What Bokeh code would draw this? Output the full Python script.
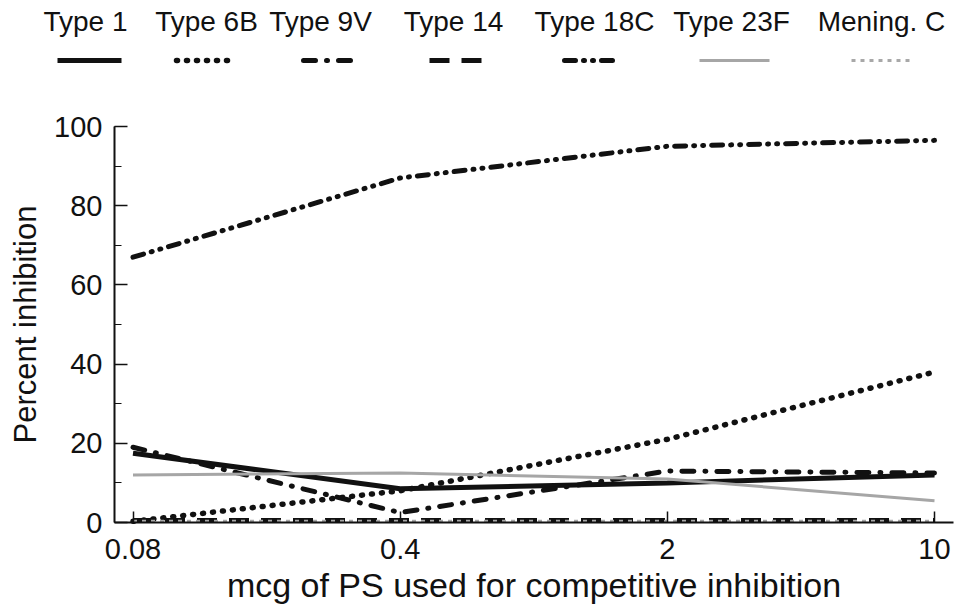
from bokeh.plotting import figure
from bokeh.models import (Range1d, FixedTicker, SingleIntervalTicker, CustomJSTickFormatter,
                          LinearScale)
from bokeh.core.properties import value
from bokeh.embed import file_html
from bokeh.resources import INLINE

# ---- data ----
doses = [0.08, 0.4, 2, 10]
series_names = ["Type 1", "Type 6B", "Type 9V", "Type 14", "Type 18C", "Type 23F", "Mening. C"]
type1 = [17.5, 8.5, 10, 12]
type6b = [0.3, 8, 21, 38]
type9v = [19, 2.5, 13, 12.5]
type14 = [0.5, 0.5, 0.5, 0.5]
type18c = [67, 87, 95, 96.5]
type23f = [12, 12.5, 11, 5.5]
meningc = [0.3, 0.3, 0.3, 0.3]
series_values = [type1, type6b, type9v, type14, type18c, type23f, meningc]

# ---- styles ----
styles = [
    dict(line_color="#111111", line_width=5, line_dash="solid", line_cap="butt"),
    dict(line_color="#111111", line_width=5.5, line_dash="1 9", line_cap="round"),
    dict(line_color="#111111", line_width=5, line_dash="12 11 1 11", line_cap="round"),
    dict(line_color="#111111", line_width=5, line_dash="20 12", line_cap="butt"),
    dict(line_color="#111111", line_width=5, line_dash="11 8 1 8 1 8", line_cap="round"),
    dict(line_color="#a6a6a6", line_width=3, line_dash="solid", line_cap="butt"),
    dict(line_color="#a8a8a8", line_width=3, line_dash="4 5", line_cap="butt"),
]
FONT = "Liberation Sans"

# ---- layout geometry (page pixels) ----
OX, OY = 4, 0              # where the canvas lands on the page
AXIS_X, AXIS_Y = 118, 522  # y-axis line x, x-axis line y
X_FIRST, X_LAST = 136.5, 938.0  # pixel of first / last dose
Y_TOP = 126.0              # pixel of y = 100
RIGHT, BOTTOM = 961, 607
FW = RIGHT - OX
FH = BOTTOM - OY
step = (X_LAST - X_FIRST) / (len(doses) - 1)
ratio = doses[1] / doses[0]
ppu = (AXIS_Y - Y_TOP) / 100.0


def xdata(px):
    return doses[0] * ratio ** ((px - X_FIRST) / step)


def ydata(py):
    return (AXIS_Y - py) / ppu


p = figure(frame_width=FW, frame_height=FH, x_axis_type="log",
           x_range=Range1d(xdata(OX), xdata(RIGHT)),
           y_range=Range1d(ydata(BOTTOM), ydata(OY)),
           output_backend="svg", toolbar_location=None,
           min_border_left=0, min_border_right=0, min_border_top=0, min_border_bottom=0)
p.outline_line_color = None
p.grid.visible = False

for vals, st in zip(series_values, styles):
    p.line(doses, vals, **st)

# ---- axes ----
p.xaxis.ticker = FixedTicker(ticks=doses, minor_ticks=[])
p.xaxis.formatter = CustomJSTickFormatter(code="return tick.toString();")
p.xaxis.bounds = (xdata(AXIS_X), xdata(957))
p.xaxis.fixed_location = 0
p.yaxis.ticker = SingleIntervalTicker(interval=20, num_minor_ticks=2)
p.yaxis.bounds = (0, 100)
p.yaxis.fixed_location = xdata(AXIS_X)

for ax in (p.xaxis[0], p.yaxis[0]):
    ax.axis_line_width = 2
    ax.axis_line_color = "#111111"
    ax.major_tick_line_color = "#111111"
    ax.major_tick_line_width = 1.5
    ax.major_tick_out = 0
    ax.minor_tick_out = 0
    ax.major_label_text_font = FONT
    ax.major_label_text_font_size = "29px"
    ax.major_label_text_color = "#111111"
    ax.axis_label_text_font = FONT
    ax.axis_label_text_font_style = "normal"
    ax.axis_label_text_color = "#111111"

p.xaxis.major_tick_in = 11
p.xaxis.minor_tick_in = 0
p.xaxis.major_label_standoff = 16
p.xaxis.axis_label = "mcg of PS used for competitive inhibition"
p.xaxis.axis_label_text_font_size = "34px"
p.xaxis.axis_label_standoff = 4

p.yaxis.major_tick_in = 13
p.yaxis.minor_tick_in = 7
p.yaxis.minor_tick_line_color = "#111111"
p.yaxis.major_label_standoff = 12
p.yaxis.axis_label = "Percent inhibition"
p.yaxis.axis_label_text_font_size = "31px"
p.yaxis.axis_label_standoff = 8

# ---- legend strip: labels above line swatches (page-pixel layout ranges) ----
p.extra_x_ranges = {"px": Range1d(OX, RIGHT)}
p.extra_y_ranges = {"py": Range1d(BOTTOM, OY)}
p.extra_x_scales = {"px": LinearScale()}
p.extra_y_scales = {"py": LinearScale()}

leg_text_x = [89, 210, 324, 457, 598, 735, 885]
leg_text_y = 21
sw_left = [61, 180, 307, 433, 568, 703, 855]
sw_right = [125, 237, 358, 492, 620, 773, 918]
sw_y = 60

p.text(x=leg_text_x, y=[leg_text_y] * len(series_names), text=series_names,
       text_font=value(FONT), text_font_size="28px", text_align="center",
       text_baseline="middle", text_color="#111111",
       x_range_name="px", y_range_name="py")
for i, st in enumerate(styles):
    p.line([sw_left[i], sw_right[i]], [sw_y, sw_y], x_range_name="px", y_range_name="py", **st)

open("out.html", "w").write(file_html(p, INLINE))
